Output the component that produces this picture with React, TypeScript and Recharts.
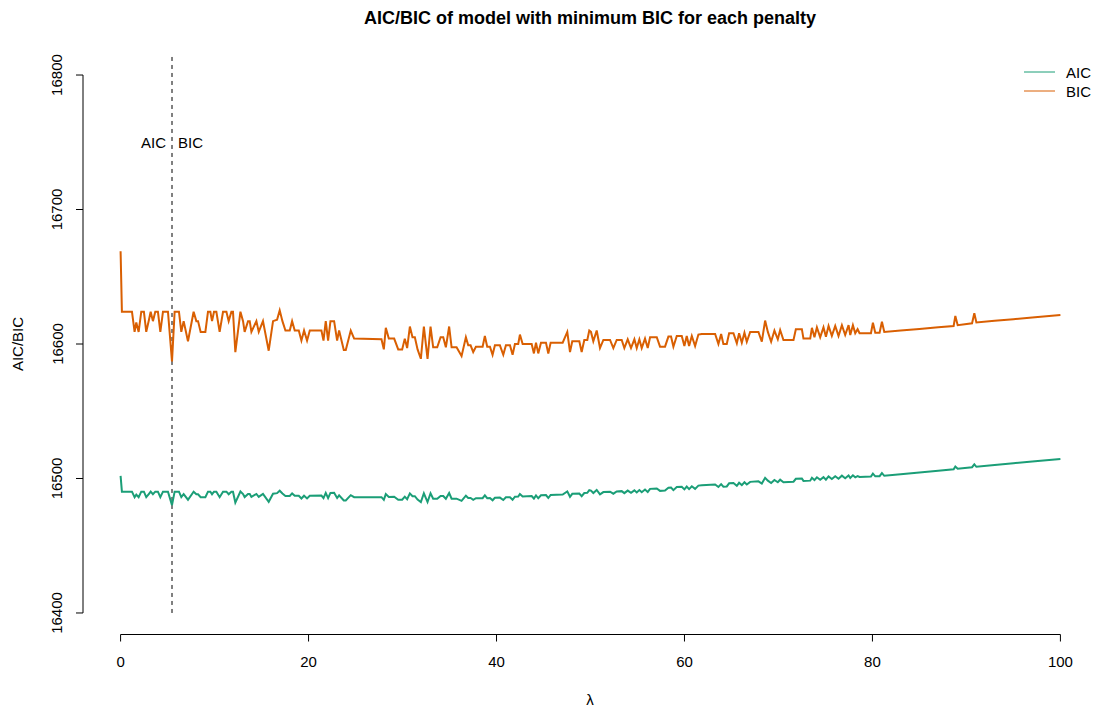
import React from 'react';
import { LineChart, Line, XAxis, YAxis, ReferenceLine, ReferenceDot } from 'recharts';

// penalty grid (lambda) and the AIC / BIC of the selected model at each penalty
const lambda = [
  0, 0.14, 1.21, 1.49, 1.67, 1.92, 2.2, 2.48, 2.73, 3.02,
  3.2, 3.44, 3.69, 3.97, 4.23, 4.51, 5.04, 5.47, 5.75, 6.21,
  6.46, 6.71, 7.17, 7.77, 8.06, 8.24, 8.52, 9.02, 9.3, 9.55,
  9.73, 9.94, 10.19, 10.54, 10.9, 11.26, 11.5, 11.79, 11.96, 12.21,
  12.75, 13.03, 13.2, 13.56, 13.74, 13.92, 14.45, 14.7, 15.15, 15.76,
  16.22, 16.65, 16.93, 17.22, 17.54, 18.0, 18.25, 18.53, 18.96, 19.24,
  19.52, 19.84, 20.13, 21.37, 21.59, 21.83, 22.08, 22.33, 22.72, 23.04,
  23.25, 23.75, 23.96, 24.49, 24.85, 27.76, 28.01, 28.22, 28.54, 29.11,
  29.54, 29.96, 30.24, 30.49, 30.78, 31.06, 31.31, 31.6, 31.95, 32.27,
  32.66, 32.98, 33.26, 33.69, 34.05, 34.33, 34.61, 34.96, 35.22, 35.75,
  36.28, 36.74, 36.99, 37.24, 37.52, 37.81, 38.52, 38.76, 39.01, 39.3,
  39.58, 39.83, 40.36, 40.72, 41.0, 41.43, 41.71, 41.96, 42.31, 42.49,
  42.78, 43.74, 43.98, 44.2, 44.44, 44.73, 45.26, 45.51, 45.76, 47.04,
  47.53, 47.82, 48.06, 48.81, 49.06, 49.34, 49.66, 49.87, 50.05, 50.3,
  50.66, 51.01, 51.37, 52.08, 52.43, 52.79, 53.32, 53.6, 53.96, 54.31,
  54.67, 54.92, 55.2, 55.45, 55.8, 56.09, 56.34, 57.05, 57.4, 57.93,
  58.29, 58.57, 58.82, 59.18, 59.71, 59.99, 60.24, 60.49, 60.78, 61.13,
  61.48, 61.84, 63.26, 63.61, 63.9, 64.14, 64.5, 64.75, 65.21, 65.57,
  65.81, 66.1, 66.38, 66.63, 66.99, 67.87, 68.23, 68.58, 68.87, 69.22,
  69.57, 69.93, 70.18, 70.53, 71.6, 71.85, 72.49, 72.66, 73.38, 73.56,
  73.83, 74.09, 74.44, 74.79, 75.05, 75.33, 75.68, 76.04, 76.39, 76.75,
  77.1, 77.46, 77.64, 77.92, 78.17, 78.42, 78.63, 79.84, 80.05, 80.3,
  80.76, 81.01, 81.26, 83, 85, 87, 88.64, 88.82, 89.07, 90.6,
  90.84, 91.06, 93, 95, 97, 100,
];

const bic = [
  16669, 16624, 16624, 16609, 16616, 16609, 16624, 16624, 16609, 16618,
  16624, 16617, 16624, 16624, 16609, 16624, 16624, 16587, 16624, 16624,
  16609, 16617, 16602, 16624, 16617, 16617, 16609, 16609, 16624, 16624,
  16617, 16624, 16624, 16609, 16624, 16624, 16617, 16624, 16624, 16594,
  16624, 16617, 16609, 16617, 16617, 16609, 16617, 16609, 16617, 16595,
  16617, 16618, 16625, 16617, 16610, 16610, 16617, 16610, 16610, 16602.5,
  16610, 16602.5, 16610, 16610, 16602.5, 16617, 16602.5, 16617, 16617, 16602.5,
  16610, 16595.5, 16595.5, 16610, 16604, 16603.5, 16596, 16612, 16604, 16604,
  16596, 16596, 16604, 16597, 16613, 16605, 16605, 16596, 16589, 16613,
  16589, 16613, 16597.5, 16597.5, 16605, 16605, 16597.5, 16613, 16597.5, 16597.5,
  16591, 16605, 16599, 16599, 16594, 16598, 16598, 16606, 16598, 16598,
  16592, 16599, 16599, 16592, 16599, 16599, 16592, 16600, 16600, 16607,
  16600, 16600, 16593, 16601, 16593, 16601, 16601, 16593, 16601, 16601,
  16609, 16594, 16602, 16602, 16594, 16603, 16603, 16610, 16609, 16602,
  16610, 16597, 16603, 16603, 16597, 16603, 16603, 16597, 16603.5, 16597,
  16603.5, 16597, 16603.5, 16597, 16604, 16597, 16605, 16605, 16598, 16598,
  16605.5, 16605.5, 16598, 16606, 16606, 16598.5, 16606, 16598.5, 16606, 16598.5,
  16607, 16607.5, 16607.5, 16600, 16607.5, 16600, 16600, 16608, 16608, 16600.5,
  16608, 16601, 16608.4, 16601.7, 16609, 16609, 16601.7, 16617.4, 16609, 16601.7,
  16610, 16603.5, 16610.4, 16603, 16603, 16611, 16611, 16604, 16604, 16612,
  16605, 16612.4, 16605, 16612.4, 16605.4, 16613.4, 16606, 16613.4, 16606, 16614,
  16606.7, 16614, 16606.7, 16614, 16608, 16611, 16608, 16608, 16615.8, 16608.4,
  16608.4, 16616.6, 16609, 16610, 16611.2, 16612.4, 16613.4, 16620.8, 16614, 16615.4,
  16622.8, 16616, 16617.2, 16618.4, 16619.7, 16621.6,
];

const aic = [
  16502, 16490.2, 16490.2, 16486.1, 16488.0, 16486.1, 16490.2, 16490.2, 16486.1, 16488.6,
  16490.2, 16488.3, 16490.2, 16490.2, 16486.1, 16490.2, 16490.2, 16480.2, 16490.2, 16490.2,
  16486.1, 16488.3, 16484.2, 16490.2, 16488.3, 16488.3, 16486.1, 16486.1, 16490.2, 16490.2,
  16488.3, 16490.2, 16490.2, 16486.1, 16490.2, 16490.2, 16488.3, 16490.2, 16490.2, 16482.1,
  16490.3, 16488.4, 16486.2, 16488.5, 16488.5, 16486.3, 16488.5, 16486.4, 16488.6, 16482.7,
  16488.7, 16489.1, 16490.9, 16488.8, 16487.0, 16487.0, 16488.9, 16487.1, 16487.1, 16485.1,
  16487.2, 16485.2, 16487.2, 16487.3, 16485.4, 16489.3, 16485.4, 16489.3, 16489.4, 16485.5,
  16487.5, 16483.7, 16483.7, 16487.6, 16486.1, 16486.1, 16484.1, 16488.4, 16486.3, 16486.4,
  16484.2, 16484.2, 16486.5, 16484.6, 16488.9, 16486.8, 16486.8, 16484.3, 16482.5, 16489.0,
  16482.5, 16489.0, 16484.9, 16484.9, 16487.0, 16487.0, 16484.9, 16489.2, 16485.0, 16485.0,
  16483.4, 16487.2, 16485.5, 16485.5, 16484.2, 16485.4, 16485.4, 16487.5, 16485.4, 16485.5,
  16483.8, 16485.7, 16485.8, 16484.0, 16486.0, 16486.1, 16484.2, 16486.5, 16486.6, 16488.5,
  16486.7, 16487.0, 16485.1, 16487.4, 16485.3, 16487.5, 16487.7, 16485.5, 16487.8, 16488.1,
  16490.4, 16486.4, 16488.6, 16488.8, 16486.8, 16489.2, 16489.3, 16491.3, 16491.0, 16489.2,
  16491.5, 16488.2, 16489.9, 16490.2, 16488.7, 16490.4, 16490.6, 16489.1, 16491.0, 16489.4,
  16491.2, 16489.6, 16491.4, 16489.8, 16491.8, 16490.0, 16492.3, 16492.6, 16490.8, 16491.0,
  16493.1, 16493.2, 16491.3, 16493.6, 16493.8, 16491.9, 16494.0, 16492.1, 16494.2, 16492.3,
  16494.7, 16495.0, 16495.5, 16493.7, 16495.8, 16493.9, 16494.1, 16496.4, 16496.6, 16494.6,
  16496.8, 16495.1, 16497.2, 16495.5, 16497.5, 16497.9, 16496.2, 16500.5, 16498.4, 16496.6,
  16498.9, 16497.2, 16499.1, 16497.2, 16497.6, 16499.8, 16500.0, 16498.2, 16498.4, 16500.5,
  16498.8, 16500.9, 16499.0, 16501.0, 16499.1, 16501.5, 16499.6, 16501.7, 16499.8, 16502.1,
  16500.2, 16502.3, 16500.4, 16502.4, 16500.9, 16501.8, 16501.1, 16501.4, 16503.6, 16501.6,
  16501.7, 16504.0, 16502.0, 16503.2, 16504.4, 16505.7, 16506.8, 16508.9, 16507.2, 16508.4,
  16510.5, 16508.7, 16510.0, 16511.3, 16512.6, 16514.5,
];

const xTicks = [0, 20, 40, 60, 80, 100];
const yTicks = [16400, 16500, 16600, 16700, 16800];

const AIC_COLOR = '#1B9E77';
const BIC_COLOR = '#D95F02';
const FONT = '"Liberation Sans", Arial, Helvetica, sans-serif';
const FS = 15;

const data = lambda.map((l, i) => ({ lambda: l, aic: aic[i], bic: bic[i] }));
const bestLambda = lambda[bic.indexOf(Math.min(...bic))];

const YTick = (props: any) => {
  const { y, payload } = props;
  const tx = 62.5;
  return (
    <text
      x={tx}
      y={y}
      transform={`rotate(-90 ${tx} ${y})`}
      textAnchor="middle"
      fontSize={FS}
      fontFamily={FONT}
      fill="#000"
    >
      {payload.value}
    </text>
  );
};

export default function App() {
  return (
    <div style={{ position: 'absolute', left: 0, top: 0, width: 1094, height: 714, background: '#fff' }}>
      <LineChart
        width={1094}
        height={714}
        data={data}
        margin={{ top: 53.5, right: -4, bottom: 19.5, left: 0 }}
      >
        <XAxis
          type="number"
          dataKey="lambda"
          domain={[-4, 104]}
          ticks={xTicks}
          axisLine={false}
          tickLine={{ stroke: '#000' }}
          tickSize={7}
          tickMargin={15}
          height={60}
          tick={{ fontSize: FS, fontFamily: FONT, fill: '#000' }}
        />
        <YAxis
          type="number"
          domain={[16384, 16816]}
          ticks={yTicks}
          axisLine={false}
          tickLine={{ stroke: '#000' }}
          tickSize={7}
          width={83}
          tick={<YTick />}
        />
        {/* axis lines only over the tick range, as base R draws them */}
        <ReferenceLine segment={[{ x: 0, y: 16384 }, { x: 100, y: 16384 }]} stroke="#000" />
        <ReferenceLine segment={[{ x: -4, y: 16400 }, { x: -4, y: 16800 }]} stroke="#000" />
        <ReferenceLine
          segment={[{ x: bestLambda, y: 16400 }, { x: bestLambda, y: 16816 }]}
          stroke="#000"
          strokeDasharray="4 4"
        />
        <ReferenceDot
          x={bestLambda}
          y={16750}
          r={0}
          label={{ value: 'AIC', position: 'left', offset: 6, fontSize: FS, fontFamily: FONT, fill: '#000' }}
        />
        <ReferenceDot
          x={bestLambda}
          y={16750}
          r={0}
          label={{ value: 'BIC', position: 'right', offset: 6, fontSize: FS, fontFamily: FONT, fill: '#000' }}
        />
        <Line
          type="linear"
          dataKey="bic"
          stroke={BIC_COLOR}
          strokeWidth={2}
          dot={false}
          isAnimationActive={false}
        />
        <Line
          type="linear"
          dataKey="aic"
          stroke={AIC_COLOR}
          strokeWidth={2}
          dot={false}
          isAnimationActive={false}
        />
        <text x={590} y={23.5} textAnchor="middle" fontSize={18} fontWeight="bold" fontFamily={FONT} fill="#000">
          AIC/BIC of model with minimum BIC for each penalty
        </text>
        <text x={590} y={705} textAnchor="middle" fontSize={FS} fontFamily={FONT} fill="#000">
          λ
        </text>
        <text
          x={22.5}
          y={344}
          transform="rotate(-90 22.5 344)"
          textAnchor="middle"
          fontSize={FS}
          fontFamily={FONT}
          fill="#000"
        >
          AIC/BIC
        </text>
        <g fontFamily={FONT} fontSize={FS} fill="#000">
          <line x1={1024} x2={1055} y1={72} y2={72} stroke={AIC_COLOR} strokeWidth={1} />
          <text x={1066} y={77.5}>AIC</text>
          <line x1={1024} x2={1055} y1={91} y2={91} stroke={BIC_COLOR} strokeWidth={1} />
          <text x={1066} y={96.5}>BIC</text>
        </g>
      </LineChart>
    </div>
  );
}
